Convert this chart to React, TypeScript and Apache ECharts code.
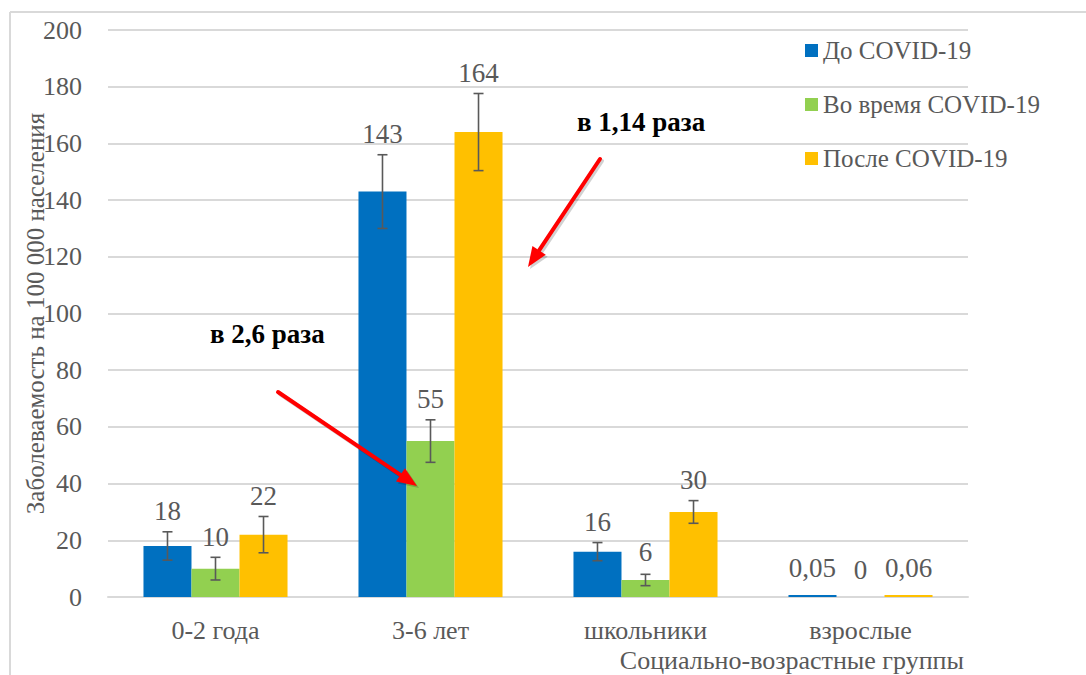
import React, { useEffect, useRef } from "react";
import * as echarts from "echarts";

const categories = ["0-2 года", "3-6 лет", "школьники", "взрослые"];
const seriesNames = ["До COVID-19", "Во время COVID-19", "После COVID-19"];
const beforeValues = [18, 143, 16, 0.05];
const duringValues = [10, 55, 6, 0];
const afterValues = [22, 164, 30, 0.06];
const beforeErrors = [5, 13, 3.2, 0];
const duringErrors = [4, 7.5, 2, 0];
const afterErrors = [6.4, 13.6, 4, 0];
const seriesColors = ["#0070c0", "#92d050", "#ffc000"];
const yMin = 0;
const yMax = 200;
const yInterval = 20;
const yAxisTitle = "Заболеваемость на 100 000 населения";
const xAxisTitle = "Социально-возрастные группы";
const annotations = ["в 2,6 раза", "в 1,14 раза"];

const FONT = "Liberation Serif";
const TEXT = "#595959";
const CAT_GAP = 0.33;
const GRID_TOP = 30;
const GRID_BOTTOM = 78;
const HEIGHT = 675;

function fmt(v: number) {
  return String(v).replace(".", ",");
}

function arrowParts(x1: number, y1: number, x2: number, y2: number, color: string, z: number) {
  const ang = Math.atan2(y2 - y1, x2 - x1);
  const hl = 20;
  const hw = 8;
  const bx = x2 - hl * Math.cos(ang);
  const by = y2 - hl * Math.sin(ang);
  const px = -Math.sin(ang);
  const py = Math.cos(ang);
  return [
    {
      type: "line",
      shape: { x1, y1, x2: bx, y2: by },
      style: { stroke: color, lineWidth: 4, lineCap: "round" },
      z,
    },
    {
      type: "polygon",
      shape: {
        points: [
          [x2, y2],
          [bx + px * hw, by + py * hw],
          [bx - px * hw, by - py * hw],
        ],
      },
      style: { fill: color },
      z,
    },
  ];
}

function arrow(x1: number, y1: number, x2: number, y2: number) {
  return [
    ...arrowParts(x1 + 2, y1 + 2, x2 + 2, y2 + 2, "rgba(0,0,0,0.18)", 99),
    ...arrowParts(x1, y1, x2, y2, "#ff0000", 100),
  ];
}

export default function App() {
  const ref = useRef<HTMLDivElement>(null);
  useEffect(() => {
    if (!ref.current) return;
    const chart = echarts.init(ref.current, undefined, { renderer: "svg" });
    const valueSets = [beforeValues, duringValues, afterValues];
    const errorSets = [beforeErrors, duringErrors, afterErrors];
    const pxPerUnit = (HEIGHT - GRID_TOP - GRID_BOTTOM) / (yMax - yMin);

    const barSeries = seriesNames.map((name, s) => ({
      name,
      type: "bar",
      data: valueSets[s].map((v, i) => ({
        value: v,
        label: { distance: Math.max(errorSets[s][i] * pxPerUnit + 7, 14) },
      })),
      barGap: "0%",
      barCategoryGap: CAT_GAP * 100 + "%",
      barMinHeight: s === 1 ? 0 : 2,
      itemStyle: { color: seriesColors[s] },
      label: {
        show: true,
        position: "top",
        fontSize: 27,
        fontFamily: FONT,
        color: TEXT,
        formatter: (p: any) => fmt(p.value),
      },
      z: 2,
    }));

    const errSeries = seriesNames.map((name, s) => ({
      name: name + " err",
      type: "custom",
      z: 5,
      clip: false,
      silent: true,
      data: valueSets[s].map((v, i) => [i, v, errorSets[s][i]]),
      encode: { x: 0, y: 1 },
      renderItem: (params: any, api: any) => {
        const idx = api.value(0);
        const val = api.value(1);
        const err = api.value(2);
        const catW = api.size([1, 0])[0];
        const bw = (catW * (1 - CAT_GAP)) / 3;
        const cx = api.coord([idx, val])[0] + (s - 1) * bw;
        const top = api.coord([idx, val + err])[1];
        const bot = api.coord([idx, val - err])[1];
        const children: any[] = [];
        const st = { stroke: "#595959", lineWidth: 1.6 };
        if (err > 0) {
          children.push({ type: "line", shape: { x1: cx, y1: top, x2: cx, y2: bot }, style: st });
          children.push({ type: "line", shape: { x1: cx - 5, y1: top, x2: cx + 5, y2: top }, style: st });
          children.push({ type: "line", shape: { x1: cx - 5, y1: bot, x2: cx + 5, y2: bot }, style: st });
        }
        return { type: "group", children };
      },
    }));

    chart.setOption({
      animation: false,
      grid: { left: 108, right: 118, top: GRID_TOP, bottom: GRID_BOTTOM, containLabel: false },
      legend: {
        data: seriesNames,
        orient: "vertical",
        left: 800,
        top: 33,
        itemWidth: 13,
        itemHeight: 13,
        itemGap: 29,
        icon: "rect",
        textStyle: { fontSize: 25, color: TEXT, fontFamily: FONT },
      },
      xAxis: {
        type: "category",
        data: categories,
        axisLine: { lineStyle: { color: "#d9d9d9", width: 2 } },
        axisTick: { show: false },
        axisLabel: { fontSize: 26, color: TEXT, fontFamily: FONT, margin: 20 },
        name: xAxisTitle,
        nameLocation: "end",
        nameGap: -4,
        nameMoveOverlap: false,
        nameTextStyle: {
          fontSize: 26,
          color: TEXT,
          fontFamily: FONT,
          align: "right",
          verticalAlign: "top",
          padding: [50, 0, 0, 0],
        },
      },
      yAxis: {
        type: "value",
        min: yMin,
        max: yMax,
        interval: yInterval,
        axisLine: { show: false },
        axisTick: { show: false },
        splitLine: { lineStyle: { color: "#d9d9d9", width: 2 } },
        axisLabel: { fontSize: 26, color: TEXT, fontFamily: FONT, margin: 26 },
        name: yAxisTitle,
        nameLocation: "middle",
        nameRotate: 90,
        nameGap: 60,
        nameMoveOverlap: false,
        nameTextStyle: { fontSize: 25, color: TEXT, fontFamily: FONT },
      },
      graphic: [
        { type: "line", shape: { x1: 10, y1: 12, x2: 1086, y2: 12 }, style: { stroke: "#d9d9d9", lineWidth: 2 } },
        { type: "line", shape: { x1: 10, y1: 12, x2: 10, y2: 675 }, style: { stroke: "#d9d9d9", lineWidth: 2 } },
        {
          type: "text",
          x: 210,
          y: 334,
          z: 100,
          style: { text: annotations[0], fill: "#000000", fontSize: 27, fontWeight: "bold", fontFamily: FONT, verticalAlign: "middle" },
        },
        {
          type: "text",
          x: 577,
          y: 122,
          z: 100,
          style: { text: annotations[1], fill: "#000000", fontSize: 27, fontWeight: "bold", fontFamily: FONT, verticalAlign: "middle" },
        },
        ...arrow(278, 392, 417, 486),
        ...arrow(600, 159, 528, 267),
      ],
      series: [...barSeries, ...errSeries],
    });
    return () => chart.dispose();
  }, []);
  return (
    <div
      ref={ref}
      style={{ position: "fixed", left: 0, top: 0, width: 1086, height: 675, background: "#fff" }}
    />
  );
}
